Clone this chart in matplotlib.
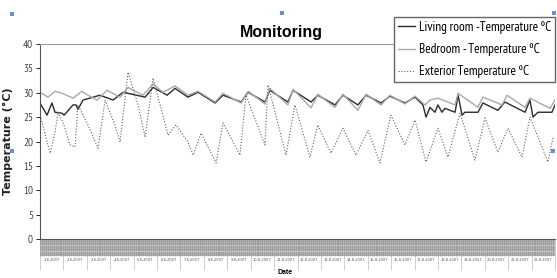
import numpy as np
import matplotlib
matplotlib.use('Agg')
import matplotlib.pyplot as plt
import matplotlib.transforms as mtransforms
from matplotlib.patches import Rectangle

# day number (0 = start of record) and temperature
living_day = [0.00, 0.30, 0.51, 0.64, 0.94, 1.03, 1.41, 1.54, 1.62, 1.84, 2.56, 3.12, 3.55, 4.49,
              4.83, 5.43, 5.77, 6.32, 6.75, 7.48, 7.82, 8.59, 8.89, 9.61, 9.82, 10.59, 10.81,
              11.58, 11.87, 12.60, 12.94, 13.58, 13.93, 14.57, 14.95, 15.59, 16.02, 16.36,
              16.49, 16.66, 16.87, 17.00, 17.17, 17.30, 17.73, 17.86, 18.03, 18.15, 18.71,
              18.92, 19.56, 19.86, 20.72, 20.93, 21.06, 21.27, 21.87, 22.00]
living_temp = [27.9, 25.4, 27.9, 26.0, 25.8, 25.4, 27.5, 27.5, 26.6, 28.5, 29.5, 28.5, 30.1, 29.1,
               31.1, 29.5, 30.9, 29.1, 30.1, 27.9, 29.5, 28.1, 30.1, 28.1, 30.5, 28.1, 30.5,
               28.1, 29.5, 27.5, 29.5, 27.5, 29.5, 27.9, 29.3, 27.9, 29.1, 27.5,
               25.0, 27.0, 26.0, 27.5, 26.0, 26.8, 26.0, 29.5, 25.4, 26.0, 26.0,
               27.9, 26.4, 28.1, 26.0, 28.5, 25.0, 26.0, 26.0, 27.5]

bedroom_day = [0.00, 0.34, 0.64, 0.94, 1.41, 1.79, 2.05, 2.43, 2.86, 3.42, 3.76, 4.40, 4.83, 5.25,
               5.77, 6.32, 6.75, 7.48, 7.82, 8.59, 8.89, 9.61, 9.82, 10.59, 10.81, 11.58, 11.87,
               12.60, 12.94, 13.58, 13.93, 14.57, 14.95, 15.59, 16.02, 16.45, 16.66, 17.00,
               17.73, 17.86, 18.71, 18.92, 19.74, 19.95, 20.72, 20.93, 21.79, 22.00]
bedroom_temp = [30.1, 29.1, 30.3, 29.9, 28.9, 30.3, 29.5, 28.5, 30.5, 29.1, 31.1, 29.5, 31.8, 30.1,
                31.4, 29.5, 30.3, 28.1, 29.9, 27.9, 30.3, 27.7, 30.9, 27.5, 30.7, 26.9, 29.7,
                27.0, 29.7, 26.4, 29.7, 27.5, 29.5, 27.7, 29.3, 27.5, 28.5, 28.9,
                27.5, 29.9, 27.0, 29.1, 27.5, 29.5, 27.0, 28.9, 26.8, 28.5]

exterior_day = [0.04, 0.43, 0.64, 0.77, 0.98, 1.28, 1.50, 1.62, 2.05, 2.48, 2.78, 3.20, 3.42, 3.76,
                4.19, 4.49, 4.83, 5.47, 5.81, 6.32, 6.54, 6.88, 7.52, 7.82, 8.54, 8.80, 9.61,
                9.74, 10.51, 10.89, 11.02, 11.53, 11.87, 12.43, 12.94, 13.50, 14.01, 14.52,
                14.99, 15.59, 16.02, 16.49, 17.00, 17.43, 17.94, 18.58, 19.01, 19.56, 19.99,
                20.59, 20.93, 21.70, 21.92]
exterior_temp = [24.8, 17.6, 21.9, 26.0, 24.0, 19.3, 18.9, 27.5, 23.4, 18.6, 28.5, 23.4, 19.9, 34.2,
                 27.5, 20.9, 33.0, 21.3, 23.4, 19.9, 17.2, 21.7, 15.6, 23.8, 17.2, 29.5, 19.3,
                 31.6, 17.2, 27.5, 25.4, 16.8, 23.4, 17.6, 22.7, 17.2, 22.3, 15.6,
                 25.4, 19.3, 24.4, 15.8, 22.7, 16.8, 25.8, 16.2, 24.8, 17.8, 22.7,
                 16.8, 25.0, 15.8, 20.9]

date_labels = ['%d-8-2007' % d for d in range(1, 23)]

narrow = 'PT Sans Narrow'

fig = plt.figure(figsize=(5.57, 2.78), dpi=100)
ax = fig.add_axes([40/557, 1-239/278, 515/557, 195/278])

ax.plot(living_day, living_temp, color='#2b2b2b', lw=1.0, label='Living room -Temperature ºC')
ax.plot(bedroom_day, bedroom_temp, color='#a8a8a8', lw=1.0, label='Bedroom - Temperature ºC')
ax.plot(exterior_day, exterior_temp, color='#606060', lw=0.8, ls=(0, (1, 1.6)),
        label='Exterior Temperature ºC')

ax.set_xlim(0, 22)
ax.set_ylim(0, 40)
ax.set_yticks(range(0, 41, 5))
ax.tick_params(axis='y', labelsize=8, labelcolor='#444444', length=3, width=0.6, pad=2)
for t in ax.get_yticklabels():
    t.set_fontfamily(narrow)

ax.spines['right'].set_visible(False)
ax.spines['top'].set_color('#999999')
ax.spines['top'].set_linewidth(0.8)
ax.spines['left'].set_color('#555555')
ax.spines['bottom'].set_color('#555555')

# dense category axis below the plot (grey band + date boxes)
trans = mtransforms.blended_transform_factory(ax.transData, ax.transAxes)
ax.add_patch(Rectangle((0, -0.088), 22, 0.088, transform=trans, facecolor='#b4b4b4',
                       edgecolor='none', clip_on=False))
hours = np.arange(0, 22, 1/12)
ax.vlines(hours, -0.088, 0, transform=trans, color='#8a8a8a', lw=0.4, clip_on=False)
ax.hlines([-0.03, -0.06], 0, 22, transform=trans, color='#d0d0d0', lw=0.5, clip_on=False)

ax.set_xticks(range(0, 23))
ax.set_xticklabels([])
ax.tick_params(axis='x', which='major', length=22, width=0.5, color='#bbbbbb')
ax.set_xticks(np.arange(22) + 0.5, minor=True)
ax.set_xticklabels(date_labels, minor=True, fontsize=2.6, color='#555555')
ax.tick_params(axis='x', which='minor', length=0, pad=14)

ax.set_ylabel('Temperature (°C)', fontsize=8, fontweight='bold', labelpad=2, color='#222222')
ax.yaxis.set_label_coords(-0.052, 0.5)

fig.text(281/557, 1-32/278, 'Monitoring', ha='center', va='center', fontsize=11.5,
         fontweight='bold', fontfamily='Liberation Sans')
fig.text(285/557, 1-273/278, 'Date', ha='center', va='center', fontsize=5,
         fontweight='bold', fontfamily='Liberation Sans')

leg = fig.legend(loc='upper right', bbox_to_anchor=(555/557, 1-17/278),
                 handlelength=1.3, handletextpad=0.3, borderpad=0.3, labelspacing=0.7,
                 frameon=True, fancybox=False, borderaxespad=0,
                 prop={'family': narrow, 'size': 9.5})
leg.get_frame().set_edgecolor('#666666')
leg.get_frame().set_linewidth(1.0)
leg.get_frame().set_alpha(1)

# selection handles visible in the screenshot
for px, py in [(12, 14), (282, 13), (554, 13), (12, 151), (553, 151)]:
    fig.add_artist(Rectangle((px/557 - 0.004, 1-py/278 - 0.008), 0.008, 0.016,
                             transform=fig.transFigure, facecolor='#6a8fd0', edgecolor='none'))

fig.savefig('out.png', dpi=100)
